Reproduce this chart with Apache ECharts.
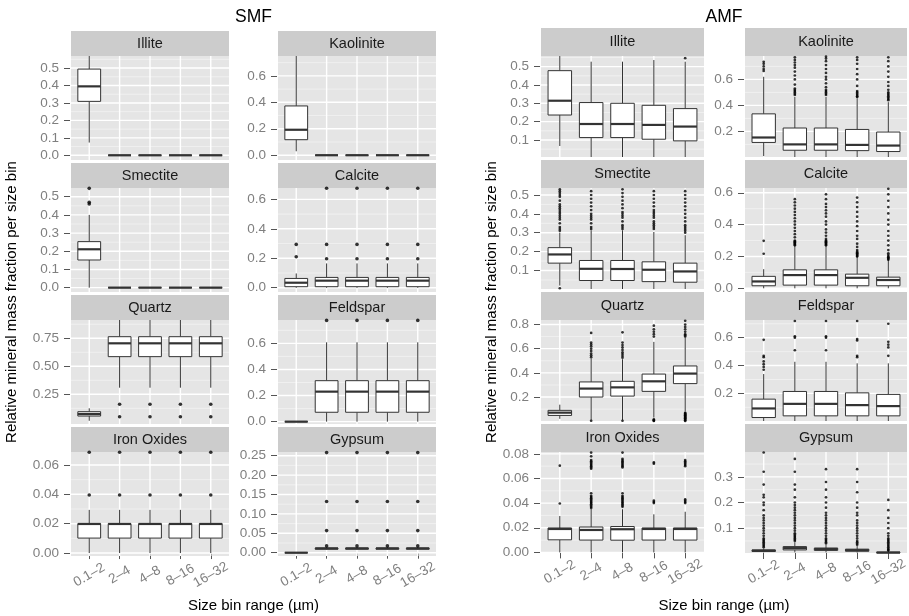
<!DOCTYPE html>
<html><head><meta charset="utf-8">
<script src="https://cdn.jsdelivr.net/npm/echarts@6/dist/echarts.min.js"></script>
<style>html,body{margin:0;padding:0;background:#fff}#c{width:909px;height:616px}</style>
</head><body><div id="c"></div>
<script>
const categories = ['0.1\u20132','2\u20134','4\u20138','8\u201316','16\u201332'];
const minerals = ['Illite','Kaolinite','Smectite','Calcite','Quartz','Feldspar','Iron Oxides','Gypsum'];

// box stats per size bin: [lower whisker, Q1, median, Q3, upper whisker]
const smfIllite = [[0.073,0.309,0.395,0.494,0.62],[0,0,0,0,0],[0,0,0,0,0],[0,0,0,0,0],[0,0,0,0,0]];
const smfKaolinite = [[0.03,0.1175,0.1925,0.3725,0.80],[0,0,0,0,0],[0,0,0,0,0],[0,0,0,0,0],[0,0,0,0,0]];
const smfSmectite = [[0,0.152,0.211,0.253,0.40],[0,0,0,0,0],[0,0,0,0,0],[0,0,0,0,0],[0,0,0,0,0]];
const smfCalcite = [[0,0.007,0.034,0.063,0.097],[0,0.007,0.048,0.07,0.165],[0,0.007,0.048,0.07,0.165],[0,0.007,0.048,0.07,0.165],[0,0.007,0.048,0.07,0.165]];
const smfQuartz = [[0.014,0.056,0.074,0.095,0.125],[0.309,0.586,0.705,0.764,1.0],[0.309,0.586,0.705,0.764,1.0],[0.309,0.586,0.705,0.764,1.0],[0.309,0.586,0.705,0.764,1.0]];
const smfFeldspar = [[0,0,0,0,0],[0,0.072,0.23,0.314,0.608],[0,0.072,0.23,0.314,0.608],[0,0.072,0.23,0.314,0.608],[0,0.072,0.23,0.314,0.608]];
const smfIron = [[0,0.0102,0.0198,0.02,0.0294],[0,0.0102,0.0198,0.02,0.0294],[0,0.0102,0.0198,0.02,0.0294],[0,0.0102,0.0198,0.02,0.0294],[0,0.0102,0.0198,0.02,0.0294]];
const smfGypsum = [[0,0,0,0,0],[0.008,0.009,0.011,0.012,0.014],[0.008,0.009,0.011,0.012,0.014],[0.008,0.009,0.011,0.012,0.014],[0.008,0.009,0.011,0.012,0.014]];

// outliers per size bin
const smfIlliteOut = [[],[],[],[],[]];
const smfKaoliniteOut = [[],[],[],[],[]];
const smfSmectiteOut = [[0.46,0.47,0.546],[],[],[],[]];
const smfCalciteOut = [[0.21,0.294],[0.197,0.294,0.675],[0.197,0.294,0.675],[0.197,0.294,0.675],[0.197,0.294,0.675]];
const smfQuartzOut = [[],[0.05,0.161],[0.05,0.161],[0.05,0.161],[0.05,0.161]];
const smfFeldsparOut = [[],[0.776],[0.776],[0.776],[0.776]];
const smfIronOut = [[0.0395,0.0686],[0.0395,0.0686],[0.0395,0.0686],[0.0395,0.0686],[0.0395,0.0686]];
const smfGypsumOut = [[],[0.0175,0.057,0.132,0.258],[0.0175,0.057,0.132,0.258],[0.0175,0.057,0.132,0.258],[0.0175,0.057,0.132,0.258]];

const amfIllite = [[0.067,0.236,0.314,0.478,0.60],[0,0.113,0.187,0.304,0.527],[0,0.113,0.187,0.30,0.527],[0,0.104,0.182,0.289,0.536],[0,0.095,0.173,0.271,0.527]];
const amfKaolinite = [[0.01,0.115,0.153,0.335,0.62],[0,0.055,0.10,0.226,0.465],[0,0.055,0.10,0.226,0.465],[0,0.052,0.096,0.215,0.455],[0,0.045,0.091,0.195,0.425]];
const amfSmectite = [[0.02,0.139,0.185,0.221,0.30],[0,0.047,0.109,0.153,0.313],[0,0.047,0.108,0.153,0.313],[0,0.041,0.104,0.146,0.304],[0,0.038,0.095,0.139,0.287]];
const amfCalcite = [[0,0.016,0.043,0.075,0.12],[0,0.02,0.083,0.116,0.28],[0,0.02,0.083,0.116,0.285],[0,0.016,0.066,0.089,0.20],[0,0.016,0.052,0.07,0.18]];
const amfQuartz = [[0.02,0.048,0.071,0.09,0.137],[0.01,0.2,0.27,0.325,0.52],[0.01,0.208,0.28,0.33,0.513],[0.03,0.247,0.33,0.39,0.656],[0.08,0.311,0.394,0.457,0.69]];
const amfFeldspar = [[0,0.027,0.092,0.159,0.339],[0,0.039,0.125,0.214,0.427],[0,0.039,0.125,0.214,0.427],[0,0.039,0.116,0.204,0.416],[0,0.039,0.109,0.193,0.416]];
const amfIron = [[0,0.0102,0.019,0.0198,0.0295],[0,0.01,0.0182,0.0206,0.035],[0,0.0099,0.0188,0.021,0.035],[0,0.01,0.019,0.0198,0.0309],[0,0.01,0.019,0.0198,0.033]];
const amfGypsum = [[0.005,0.009,0.012,0.015,0.02],[0.005,0.015,0.022,0.028,0.045],[0.005,0.013,0.019,0.022,0.035],[0.004,0.01,0.014,0.018,0.03],[0.001,0.003,0.005,0.006,0.012]];

const amfIlliteOut = [[],[],[],[],[0.546]];
const amfKaoliniteOut = [
  [0.665,0.68,0.70,0.72,0.735],
  [0.48,0.49,0.50,0.51,0.52,0.53,0.56,0.60,0.63,0.66,0.69,0.71,0.73,0.75,0.77],
  [0.48,0.49,0.50,0.51,0.52,0.54,0.57,0.60,0.62,0.65,0.68,0.71,0.74,0.76,0.775],
  [0.465,0.47,0.48,0.49,0.50,0.51,0.55,0.60,0.64,0.68,0.72,0.75,0.77],
  [0.44,0.45,0.46,0.47,0.48,0.49,0.50,0.52,0.55,0.58,0.62,0.66,0.70,0.74,0.77]];
const amfSmectiteOut = [
  [0.006,0.31,0.32,0.33,0.35,0.37,0.38,0.39,0.40,0.41,0.42,0.43,0.44,0.45,0.47,0.49,0.50,0.51,0.52,0.53],
  [0.32,0.33,0.35,0.37,0.38,0.39,0.40,0.42,0.44,0.46,0.48,0.50,0.52],
  [0.32,0.33,0.34,0.36,0.38,0.39,0.40,0.41,0.43,0.45,0.47,0.49,0.51,0.53],
  [0.32,0.33,0.34,0.35,0.36,0.38,0.39,0.40,0.41,0.42,0.44,0.46,0.48,0.50,0.52],
  [0.30,0.31,0.32,0.33,0.34,0.36,0.38,0.40,0.42,0.44,0.46,0.48,0.50,0.52]];
const amfCalciteOut = [
  [0.217,0.298],
  [0.27,0.275,0.28,0.285,0.29,0.295,0.30,0.32,0.34,0.36,0.38,0.40,0.42,0.44,0.46,0.48,0.50,0.52,0.54,0.56],
  [0.27,0.275,0.28,0.285,0.29,0.295,0.30,0.31,0.33,0.35,0.37,0.40,0.42,0.45,0.47,0.49,0.51,0.53,0.56,0.59],
  [0.20,0.205,0.21,0.215,0.22,0.225,0.23,0.24,0.26,0.28,0.31,0.33,0.36,0.39,0.42,0.45,0.48,0.51,0.54,0.57],
  [0.18,0.185,0.19,0.195,0.20,0.21,0.22,0.24,0.27,0.30,0.33,0.36,0.40,0.43,0.47,0.51,0.55,0.59,0.625]];
const amfQuartzOut = [
  [],
  [0.004,0.53,0.545,0.56,0.58,0.60,0.62,0.635,0.65,0.73],
  [0.004,0.525,0.54,0.555,0.57,0.59,0.61,0.63,0.65,0.735],
  [0.003,0.006,0.01,0.015,0.70,0.72,0.74,0.76,0.79],
  [0.003,0.008,0.015,0.02,0.025,0.03,0.035,0.04,0.045,0.05,0.055,0.06,0.065,0.07,0.70,0.71,0.72,0.74,0.76,0.78,0.80,0.83]];
const amfFeldsparOut = [
  [0.37,0.39,0.41,0.43,0.46,0.47,0.585],
  [0.51,0.60,0.61,0.72],
  [0.51,0.60,0.61,0.72],
  [0.46,0.47,0.58,0.59,0.72],
  [0.47,0.53,0.55,0.57,0.70]];
const amfIronOut = [
  [0.0397,0.0704],
  [0.036,0.037,0.038,0.039,0.040,0.041,0.042,0.043,0.044,0.045,0.046,0.048,0.068,0.069,0.070,0.071,0.072,0.073,0.074,0.075,0.078,0.081],
  [0.037,0.038,0.039,0.040,0.041,0.042,0.043,0.044,0.045,0.046,0.048,0.069,0.070,0.071,0.072,0.073,0.074,0.075,0.076,0.081],
  [0.040,0.041,0.042,0.072,0.073],
  [0.040,0.041,0.042,0.043,0.070,0.071,0.072,0.073,0.074,0.075]];
const amfGypsumOut = [
  [0.025,0.03,0.035,0.04,0.045,0.05,0.055,0.06,0.07,0.08,0.09,0.10,0.11,0.12,0.13,0.14,0.15,0.17,0.19,0.20,0.22,0.23,0.27,0.32,0.395],
  [0.05,0.055,0.06,0.065,0.07,0.075,0.08,0.09,0.10,0.11,0.12,0.13,0.14,0.15,0.16,0.17,0.18,0.19,0.20,0.22,0.25,0.27,0.32,0.37],
  [0.04,0.045,0.05,0.055,0.06,0.07,0.08,0.09,0.10,0.11,0.12,0.13,0.14,0.15,0.16,0.18,0.20,0.22,0.25,0.28,0.33],
  [0.035,0.04,0.045,0.05,0.06,0.07,0.08,0.09,0.10,0.11,0.12,0.13,0.15,0.16,0.18,0.20,0.24,0.28,0.33],
  [0.013,0.016,0.02,0.025,0.03,0.035,0.04,0.045,0.05,0.055,0.06,0.07,0.08,0.10,0.12,0.14,0.17,0.21]];

// y tick labels per panel
const smfTicks = [
  ['0.0','0.1','0.2','0.3','0.4','0.5'], ['0.0','0.2','0.4','0.6'],
  ['0.0','0.1','0.2','0.3','0.4','0.5'], ['0.0','0.2','0.4','0.6'],
  ['0.25','0.50','0.75'], ['0.0','0.2','0.4','0.6'],
  ['0.00','0.02','0.04','0.06'], ['0.00','0.05','0.10','0.15','0.20','0.25']];
const amfTicks = [
  ['0.1','0.2','0.3','0.4','0.5'], ['0.2','0.4','0.6'],
  ['0.1','0.2','0.3','0.4','0.5'], ['0.0','0.2','0.4','0.6'],
  ['0.2','0.4','0.6','0.8'], ['0.2','0.4','0.6'],
  ['0.00','0.02','0.04','0.06','0.08'], ['0.1','0.2','0.3']];
// visible y range per panel
const smfLimits = [[-0.027,0.569],[-0.036,0.75],[-0.024,0.548],[-0.029,0.677],[-0.015,0.913],[-0.018,0.779],[-0.002,0.0688],[-0.0085,0.2595]];
const amfLimits = [[0.007,0.558],[0.003,0.78],[0.002,0.537],[-0.0044,0.63],[0.002,0.837],[0.002,0.727],[-0.0005,0.0815],[0.003,0.397]];

const FONT = '"Liberation Sans", Arial, Helvetica, sans-serif';
const groups = [
  {name:'SMF', boxes:[smfIllite,smfKaolinite,smfSmectite,smfCalcite,smfQuartz,smfFeldspar,smfIron,smfGypsum],
   outs:[smfIlliteOut,smfKaoliniteOut,smfSmectiteOut,smfCalciteOut,smfQuartzOut,smfFeldsparOut,smfIronOut,smfGypsumOut],
   ticks:smfTicks, lims:smfLimits, colX:[71,278], colW:[158,158], stripH:25, plotH:104, dot:3.6,
   titleX:253.5, yTitleX:12},
  {name:'AMF', boxes:[amfIllite,amfKaolinite,amfSmectite,amfCalcite,amfQuartz,amfFeldspar,amfIron,amfGypsum],
   outs:[amfIlliteOut,amfKaoliniteOut,amfSmectiteOut,amfCalciteOut,amfQuartzOut,amfFeldsparOut,amfIronOut,amfGypsumOut],
   ticks:amfTicks, lims:amfLimits, colX:[541,745], colW:[163,162], stripH:28, plotH:101, dot:2.7,
   titleX:724, yTitleX:492}
];
const rowTops = [56,188,320,452];

const grids=[], xAxes=[], yAxes=[], series=[], graphics=[];
let gi = 0;
groups.forEach(g => {
  for (let k=0;k<8;k++){
    const col = k%2, row = Math.floor(k/2);
    const left = g.colX[col], top = rowTops[row], w = g.colW[col], h = g.plotH;
    const lim = g.lims[k], labels = g.ticks[k], nums = labels.map(Number);
    const isBottom = row === 3;
    grids.push({left:left, top:top, width:w, height:h, show:true, backgroundColor:'#E5E5E5', borderWidth:0, outerBoundsMode:'none'});
    xAxes.push({gridIndex:gi, type:'value', min:0.4, max:5.6, show:isBottom,
      axisLine:{show:false}, splitLine:{show:false},
      axisTick:{show:true, customValues:[1,2,3,4,5], length:6, lineStyle:{color:'#555', width:1}},
      axisLabel:{show:true, customValues:[1,2,3,4,5], formatter:v=>categories[Math.round(v)-1],
        rotate:30, align:'center', verticalAlign:'middle', margin:19, color:'#7F7F7F', fontSize:13.5, fontFamily:FONT}});
    yAxes.push({gridIndex:gi, type:'value', min:lim[0], max:lim[1], offset:1,
      axisLine:{show:false}, splitLine:{show:false},
      axisTick:{show:true, customValues:nums, length:6, lineStyle:{color:'#555', width:1}},
      axisLabel:{customValues:nums, margin:11, color:'#7F7F7F', fontSize:13.5, fontFamily:FONT,
        formatter:v=>{ for(let i=0;i<nums.length;i++){ if(Math.abs(nums[i]-v)<1e-9) return labels[i]; } return ''; }}});
    // grid lines (major/minor horizontals, verticals at bins)
    const step = nums.length>1 ? nums[1]-nums[0] : 0.1;
    const gridData = [];
    nums.forEach(v=>gridData.push([3,v,1]));
    for (let i=0;i<nums.length-1;i++) gridData.push([3,(nums[i]+nums[i+1])/2,0]);
    const lowMinor = nums[0]-step/2, highMinor = nums[nums.length-1]+step/2;
    if (lowMinor>lim[0]) gridData.push([3,lowMinor,0]);
    if (highMinor<lim[1]) gridData.push([3,highMinor,0]);
    [1,2,3,4,5].forEach(c=>gridData.push([c,(lim[0]+lim[1])/2,2]));
    series.push({type:'custom', xAxisIndex:gi, yAxisIndex:gi, z:1, silent:true, animation:false,
      encode:{x:0,y:1}, data:gridData,
      renderItem:(params, api)=>{
        const cs = params.coordSys; const kind = api.value(2);
        const p = api.coord([api.value(0), api.value(1)]);
        if (kind===2) return {type:'line', shape:{x1:p[0],y1:cs.y,x2:p[0],y2:cs.y+cs.height}, style:{stroke:'#FFFFFF', lineWidth:1.4}};
        return {type:'line', z2: kind, shape:{x1:cs.x,y1:p[1],x2:cs.x+cs.width,y2:p[1]},
          style:{stroke: kind===1?'#FFFFFF':'#F2F2F2', lineWidth: kind===1?1.4:0.8}};
      }});
    // boxes
    const boxData = g.boxes[k].map((b,i)=>[i+1].concat(b));
    series.push({type:'custom', xAxisIndex:gi, yAxisIndex:gi, z:2, silent:true, animation:false,
      encode:{x:0,y:[1,2,3,4,5]}, data:boxData,
      renderItem:(params, api)=>{
        const cl = v=>Math.max(lim[0], Math.min(lim[1], v));
        const x = api.value(0);
        const P = v=>api.coord([x, cl(v)]);
        const bw = api.size([0.75,0])[0];
        const cx = P(api.value(1))[0];
        const yLo=P(api.value(1))[1], yQ1=P(api.value(2))[1], yMed=P(api.value(3))[1], yQ3=P(api.value(4))[1], yHi=P(api.value(5))[1];
        const ls = {stroke:'#333333', lineWidth:1};
        return {type:'group', children:[
          {type:'line', shape:{x1:cx,y1:yQ3,x2:cx,y2:yHi}, style:ls},
          {type:'line', shape:{x1:cx,y1:yQ1,x2:cx,y2:yLo}, style:ls},
          {type:'rect', shape:{x:cx-bw/2,y:yQ3,width:bw,height:yQ1-yQ3}, style:{fill:'#FFFFFF', stroke:'#333333', lineWidth:1}},
          {type:'line', shape:{x1:cx-bw/2,y1:yMed,x2:cx+bw/2,y2:yMed}, style:{stroke:'#333333', lineWidth:2.2}}
        ]};
      }});
    // outliers
    const outData = [];
    g.outs[k].forEach((arr,i)=>arr.forEach(v=>outData.push([i+1,v])));
    series.push({type:'scatter', xAxisIndex:gi, yAxisIndex:gi, z:3, silent:true, animation:false,
      symbol:'circle', symbolSize:g.dot, itemStyle:{color:'#000000'}, data:outData, clip:true});
    // strip
    graphics.push({type:'rect', silent:true, shape:{x:left, y:top-g.stripH, width:w, height:g.stripH}, style:{fill:'#CCCCCC'}});
    graphics.push({type:'text', silent:true, x:left+w/2, y:top-g.stripH/2,
      style:{text:minerals[k], font:'14.5px '+FONT, fill:'#1A1A1A', textAlign:'center', textVerticalAlign:'middle'}});
    gi++;
  }
  graphics.push({type:'text', silent:true, x:g.titleX, y:17,
    style:{text:g.name, font:'17.5px '+FONT, fill:'#000', textAlign:'center', textVerticalAlign:'middle'}});
  graphics.push({type:'text', silent:true, x:g.titleX, y:606,
    style:{text:'Size bin range (\u00b5m)', font:'15px '+FONT, fill:'#000', textAlign:'center', textVerticalAlign:'middle'}});
  graphics.push({type:'text', silent:true, x:g.yTitleX, y:302, rotation:Math.PI/2,
    style:{text:'Relative mineral mass fraction per size bin', font:'15px '+FONT, fill:'#000', textAlign:'center', textVerticalAlign:'middle'}});
});

const chart = echarts.init(document.getElementById('c'), null, {renderer:'canvas'});
chart.setOption({animation:false, backgroundColor:'#FFFFFF', grid:grids, xAxis:xAxes, yAxis:yAxes, series:series, graphic:{elements:graphics}});
</script></body></html>
